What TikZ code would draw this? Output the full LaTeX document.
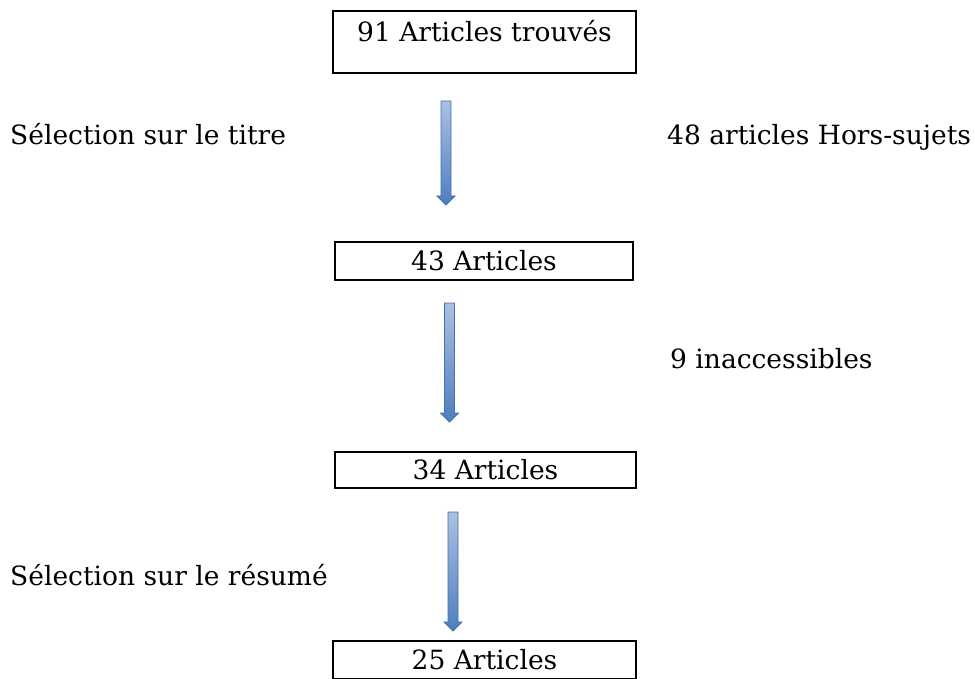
\documentclass[tikz,border=0pt]{standalone}
\usepackage{fontspec}
\setmainfont{DejaVu Serif}
\usetikzlibrary{calc, positioning}
\definecolor{ArrowLight}{RGB}{170,192,226}
\definecolor{ArrowDark}{RGB}{79,126,190}
\definecolor{ArrowEdge}{RGB}{68,112,172}
\begin{document}
\begin{tikzpicture}[x = 1pt, y = -1pt]%
    %
    \def\shaftwidth{5pt}%
    \def\headwidth{9pt}%
    \def\headlength{9pt}%
    %
    \tikzstyle{box} = [draw = black, line width = 2pt, inner sep = 0pt, font = \fontsize{26.5}{30}\selectfont]%
    \tikzstyle{label} = [anchor = base west, inner sep = 0pt, font = \fontsize{26.5}{30}\selectfont]%
    \tikzstyle{blockarrow} = [draw = ArrowEdge, line width = .8pt, top color = ArrowLight, bottom color = ArrowDark]%
    %
    \def\blockarrow(#1)(#2){% Syntax: (top)(tip)
        \draw [blockarrow] let \p1 = (#1), \p2 = (#2) in (\x1 - \shaftwidth, \y1) -- (\x1 + \shaftwidth, \y1) -- (\x2 + \shaftwidth, \y2 + \headlength) -- (\x2 + \headwidth, \y2 + \headlength) -- (\x2, \y2) -- (\x2 - \headwidth, \y2 + \headlength) -- (\x2 - \shaftwidth, \y2 + \headlength) -- cycle;%
    }%
    %
    \useasboundingbox (0, 0) rectangle (975, 679);%
    %
    \node (found) [box, minimum width = 303pt, text height = 31pt, text depth = 31pt] at (484.5, 42) {91 Articles trouvés};%
    \node (title) [box, minimum width = 298pt, minimum height = 38pt] at (484, 261) {43 Articles};%
    \node (access) [box, minimum width = 301pt, minimum height = 36pt] at (485.5, 470) {34 Articles};%
    \node (abstract) [box, minimum width = 303pt, minimum height = 38pt] at (484.5, 660) {25 Articles};%
    %
    \coordinate (t1) at (446, 101);%
    \coordinate (h1) at (446, 205);%
    \coordinate (t2) at (449.5, 303);%
    \coordinate (h2) at (449.5, 422);%
    \coordinate (t3) at (453, 512);%
    \coordinate (h3) at (453, 631);%
    %
    \blockarrow(t1)(h1);%
    \blockarrow(t2)(h2);%
    \blockarrow(t3)(h3);%
    %
    \node (sel1) [label] at (10, 145) {Sélection sur le titre};%
    \node (off) [label] at (667, 145) {48 articles Hors-sujets};%
    \node (inacc) [label] at (670, 368) {9 inaccessibles};%
    \node (sel2) [label] at (10, 585) {Sélection sur le résumé};%
\end{tikzpicture}
\end{document}
